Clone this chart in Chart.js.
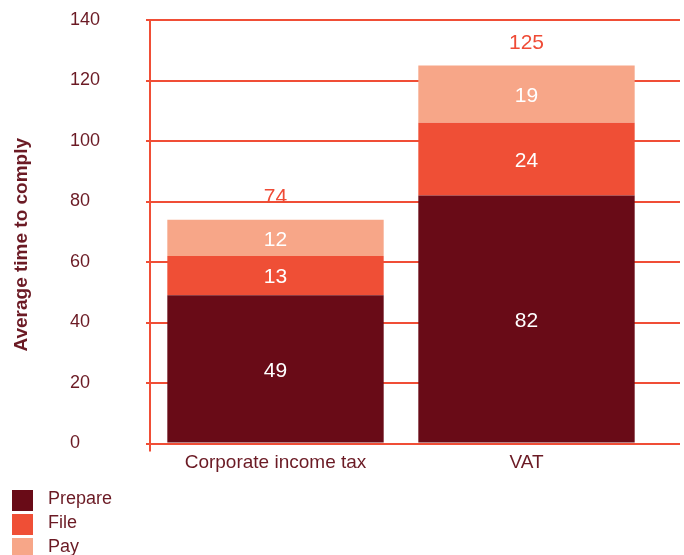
<!DOCTYPE html>
<html><head><meta charset="utf-8">
<script src="https://cdn.jsdelivr.net/npm/chart.js@4"></script>
<style>html,body{margin:0;padding:0;background:#fff}#wrap{position:relative;width:684px;height:555px}</style>
</head><body><div id="wrap"><canvas id="c"></canvas></div>
<script>
const categories = ['Corporate income tax', 'VAT'];
const seriesNames = ['Prepare', 'File', 'Pay'];
const prepare = [49, 82];
const file = [13, 24];
const pay = [12, 19];
const totals = [74, 125];
const yTicks = [0, 20, 40, 60, 80, 100, 120, 140];
const axisTitle = 'Average time to comply';

const COL_PREPARE = '#690b17';
const COL_FILE = '#ef4f36';
const COL_PAY = '#f7a688';
const GRID = '#f04e36';
const TEXT = '#6b1a24';
const FONT = '"Liberation Sans", Arial, Helvetica, sans-serif';
Chart.defaults.font.family = FONT;

const extendGrid = {
  id: 'extendGrid',
  afterLayout(chart) {
    const s = chart.scales.yTitle;
    s.top += 13; s.bottom += 13;
  },
  beforeDatasetsDraw(chart) {
    const {ctx, chartArea} = chart;
    const s = chart.scales.y;
    ctx.save();
    ctx.strokeStyle = GRID;
    ctx.lineWidth = 2;
    s.ticks.forEach(t => {
      const y = Math.round(s.getPixelForValue(t.value));
      ctx.beginPath();
      ctx.moveTo(chartArea.right, y);
      ctx.lineTo(680, y);
      ctx.stroke();
    });
    ctx.restore();
  }
};

const valueLabels = {
  id: 'valueLabels',
  afterDatasetsDraw(chart) {
    const {ctx} = chart;
    ctx.save();
    ctx.textAlign = 'center';
    ctx.textBaseline = 'middle';
    ctx.font = '21px ' + FONT;
    ctx.fillStyle = '#ffffff';
    chart.data.datasets.forEach((ds, di) => {
      const meta = chart.getDatasetMeta(di);
      meta.data.forEach((bar, i) => {
        const p = bar.getProps(['x', 'y', 'base'], true);
        ctx.fillText(String(ds.data[i]), p.x, (p.y + p.base) / 2 + 2);
      });
    });
    const last = chart.getDatasetMeta(chart.data.datasets.length - 1);
    ctx.fillStyle = '#ef4b36';
    last.data.forEach((bar, i) => {
      ctx.fillText(String(totals[i]), bar.x, bar.y - 22);
    });
    ctx.restore();
  }
};

const sideLegend = {
  id: 'sideLegend',
  afterDraw(chart) {
    const {ctx} = chart;
    ctx.save();
    ctx.font = '18px ' + FONT;
    ctx.textBaseline = 'middle';
    ctx.textAlign = 'left';
    chart.data.datasets.forEach((ds, i) => {
      ctx.fillStyle = ds.backgroundColor;
      ctx.fillRect(12, 490 + i * 24, 21, 21);
      ctx.fillStyle = TEXT;
      ctx.fillText(ds.label, 48, 499.5 + i * 24);
    });
    ctx.restore();
  }
};

new Chart(document.getElementById('c'), {
  type: 'bar',
  data: {
    labels: categories,
    datasets: [
      {label: seriesNames[0], data: prepare, backgroundColor: COL_PREPARE},
      {label: seriesNames[1], data: file, backgroundColor: COL_FILE},
      {label: seriesNames[2], data: pay, backgroundColor: COL_PAY}
    ]
  },
  options: {
    responsive: true,
    maintainAspectRatio: false,
    animation: false,
    layout: {padding: {top: 20, right: 32, bottom: 81.5, left: 0}},
    datasets: {bar: {categoryPercentage: 1, barPercentage: 0.862, borderWidth: 0}},
    plugins: {legend: {display: false}, tooltip: {enabled: false}},
    scales: {
      x: {
        stacked: true,
        border: {display: false},
        grid: {
          display: true, drawOnChartArea: false, drawTicks: true, tickLength: 8, lineWidth: 2,
          color: ctx => ctx.index === 0 ? GRID : 'rgba(0,0,0,0)'
        },
        ticks: {color: TEXT, font: {size: 19}, padding: 0, maxRotation: 0},
        afterFit: s => { s.height = 30; }
      },
      y: {
        stacked: true,
        position: 'left',
        weight: 0,
        min: 0, max: 140,
        afterBuildTicks: s => { s.ticks = yTicks.map(v => ({value: v})); },
        border: {display: true, color: GRID, width: 2},
        grid: {color: GRID, lineWidth: 2, tickLength: 4, drawTicks: true},
        ticks: {color: TEXT, font: {size: 18}, crossAlign: 'far', padding: 4},
        afterFit: s => { s.width = 80; }
      },
      yTitle: {
        type: 'linear',
        position: 'left',
        weight: 1,
        min: 0, max: 1,
        ticks: {display: false},
        grid: {display: false, drawTicks: false},
        border: {display: false},
        title: {display: true, text: axisTitle, color: TEXT, font: {size: 19, weight: 'bold'}, padding: {top: 10, bottom: 0}},
        afterFit: s => { s.width = 70; }
      }
    }
  },
  plugins: [extendGrid, valueLabels, sideLegend]
});
</script>
</body></html>
